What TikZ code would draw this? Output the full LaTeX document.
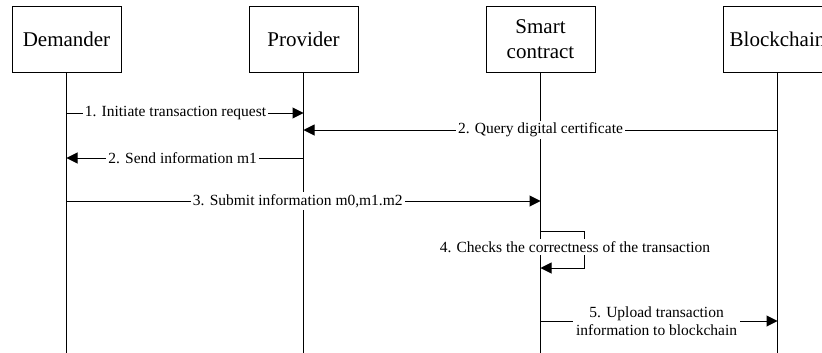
\documentclass[tikz,border=0pt]{standalone}
\usepackage{fontspec}
\setmainfont{Liberation Serif}
\usetikzlibrary{arrows.meta}
\begin{document}
\begin{tikzpicture}[x=1pt,y=-1pt,
  actor/.style={draw,line width=0.9pt,minimum width=109pt,minimum height=66pt,
    inner sep=0pt,align=center,font=\fontsize{21}{25}\selectfont},
  life/.style={line width=1pt},
  msg/.style={line width=1pt,-{Triangle[length=11pt,width=11pt]}},
  lbl/.style={fill=white,inner sep=2pt,align=center,
    font=\fontsize{15.5}{18}\selectfont}]
\useasboundingbox (0,0) rectangle (822,353);

% participants
\node[actor] (dem) at (66.5,39) {Demander};
\node[actor] (pro) at (303.5,39) {Provider};
\node[actor] (sc)  at (540.5,39) {Smart\\contract};
\node[actor] (bc)  at (777.5,39) {Blockchain};

% lifelines
\coordinate (bottom) at (0,353);
\foreach \p in {dem,pro,sc,bc}
  \draw[life] (\p.south) -- (\p.south |- bottom);

% message rows
\coordinate (r1) at (0,113);
\coordinate (r2) at (0,130);
\coordinate (r3) at (0,158);
\coordinate (r4) at (0,201);
\coordinate (r5a) at (0,231);
\coordinate (r5b) at (0,268);
\coordinate (r6) at (0,321);

% messages
\draw[msg] (dem |- r1) -- node[lbl,pos=0.46] (m1) {1. Initiate transaction request} (pro |- r1);
\draw[msg] (bc |- r2) -- node[lbl,pos=0.5] (m2) {2. Query digital certificate} (pro |- r2);
\draw[msg] (pro |- r3) -- node[lbl,pos=0.51] (m3) {2. Send information m1} (dem |- r3);
\draw[msg] (dem |- r4) -- node[lbl,pos=0.488] (m4) {3. Submit information m0,m1.m2} (sc |- r4);
\draw[msg] (sc |- r5a) -- ++(44,0) -- ++(0,37) -- (sc |- r5b);
\node[lbl] (m5) at (575,247) {4. Checks the correctness of the transaction};
\draw[msg] (sc |- r6) -- node[lbl,pos=0.49,inner sep=3pt] (m6) {5. Upload transaction\\information to blockchain} (bc |- r6);
\end{tikzpicture}
\end{document}
